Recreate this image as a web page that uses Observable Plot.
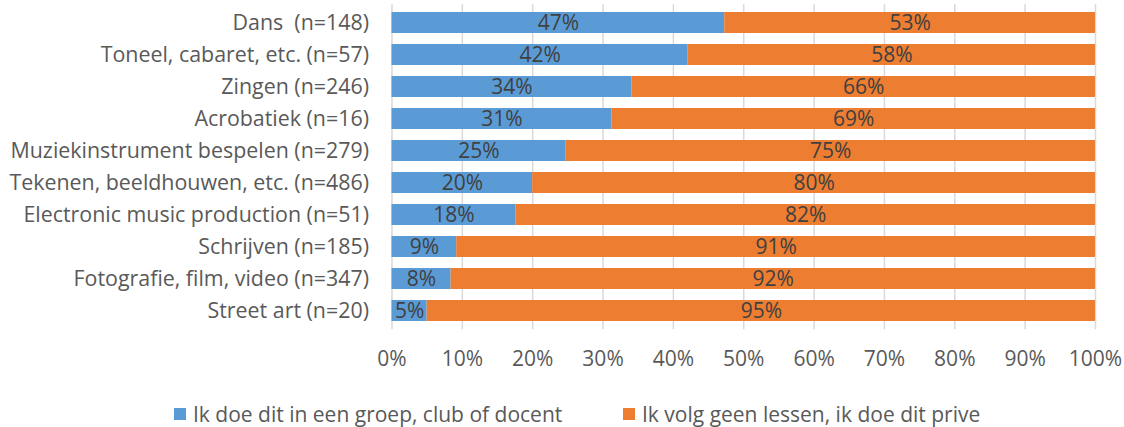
<!DOCTYPE html>
<html>
<head>
<meta charset="utf-8">
<script src="https://cdn.jsdelivr.net/npm/d3@7"></script>
<script src="https://cdn.jsdelivr.net/npm/@observablehq/plot@0.6"></script>
<style>
  html, body { margin: 0; padding: 0; background: #fff; }
  body { width: 1124px; height: 427px; overflow: hidden; font-family: "Open Sans", Lato, sans-serif; }
  #chart svg { display: block; }
  #chart svg text { white-space: pre; }
  .legend { position: relative; height: 37px; font-size: 21px; color: #595959; }
  .legend .item { position: absolute; top: 0; height: 47px; display: flex; align-items: center; white-space: nowrap; }
  .legend .sw { width: 12px; height: 12px; margin-right: 7px; }
</style>
</head>
<body>
<div id="chart"></div>
<div class="legend" id="legend"></div>
<script>
const categories = [
  "Dans  (n=148)",
  "Toneel, cabaret, etc. (n=57)",
  "Zingen (n=246)",
  "Acrobatiek (n=16)",
  "Muziekinstrument bespelen (n=279)",
  "Tekenen, beeldhouwen, etc. (n=486)",
  "Electronic music production (n=51)",
  "Schrijven (n=185)",
  "Fotografie, film, video (n=347)",
  "Street art (n=20)"
];
const seriesNames = [
  "Ik doe dit in een groep, club of docent",
  "Ik volg geen lessen, ik doe dit prive"
];
const groupValues = [47.3, 42.1, 34.1, 31.25, 24.7, 20.0, 17.6, 9.2, 8.4, 5.0];
const priveValues = [52.7, 57.9, 65.9, 68.75, 75.3, 80.0, 82.4, 90.8, 91.6, 95.0];
const groupLabels = ["47%", "42%", "34%", "31%", "25%", "20%", "18%", "9%", "8%", "5%"];
const priveLabels = ["53%", "58%", "66%", "69%", "75%", "80%", "82%", "91%", "92%", "95%"];
const xTicks = [0, 10, 20, 30, 40, 50, 60, 70, 80, 90, 100];
const colors = ["#5B9BD5", "#ED7D31"];

const rows = [];
categories.forEach((c, i) => {
  rows.push({cat: c, series: seriesNames[0], s: 0, value: groupValues[i], label: groupLabels[i]});
  rows.push({cat: c, series: seriesNames[1], s: 1, value: priveValues[i], label: priveLabels[i]});
});

const chart = Plot.plot({
  width: 1124,
  height: 390,
  marginLeft: 391.5,
  marginRight: 29,
  marginTop: 4.25,
  marginBottom: 60.75,
  style: {fontFamily: "'Open Sans', Lato, sans-serif", fontSize: "21px", color: "#595959", background: "#fff"},
  x: {domain: [0, 100], ticks: xTicks, tickFormat: d => d + "%", tickSize: 0, tickPadding: 21, label: null},
  y: {domain: categories, paddingInner: 0.35, paddingOuter: 0.175, tickSize: 0, tickPadding: 23, label: null},
  color: {domain: seriesNames, range: colors},
  marks: [
    Plot.gridX(xTicks, {stroke: "#d9d9d9", strokeOpacity: 1, strokeWidth: 1.5}),
    Plot.barX(rows, Plot.stackX({x: "value", y: "cat", fill: "series", order: "s"})),
    Plot.text(rows, Plot.stackX({x: "value", y: "cat", text: "label", order: "s", fill: "#404040", fontSize: 21})),
    Plot.axisX({ticks: xTicks, tickFormat: d => d + "%", tickSize: 0, tickPadding: 21, fill: "#595959", fontSize: 21}),
    Plot.axisY({tickSize: 0, tickPadding: 23, fill: "#595959", fontSize: 21.4})
  ]
});
document.getElementById("chart").appendChild(chart);

const legend = document.getElementById("legend");
const lx = [174, 623];
seriesNames.forEach((n, i) => {
  const it = document.createElement("div");
  it.className = "item";
  it.style.left = lx[i] + "px";
  const sw = document.createElement("span");
  sw.className = "sw";
  sw.style.background = colors[i];
  const t = document.createElement("span");
  t.textContent = n;
  it.appendChild(sw);
  it.appendChild(t);
  legend.appendChild(it);
});
</script>
</body>
</html>
